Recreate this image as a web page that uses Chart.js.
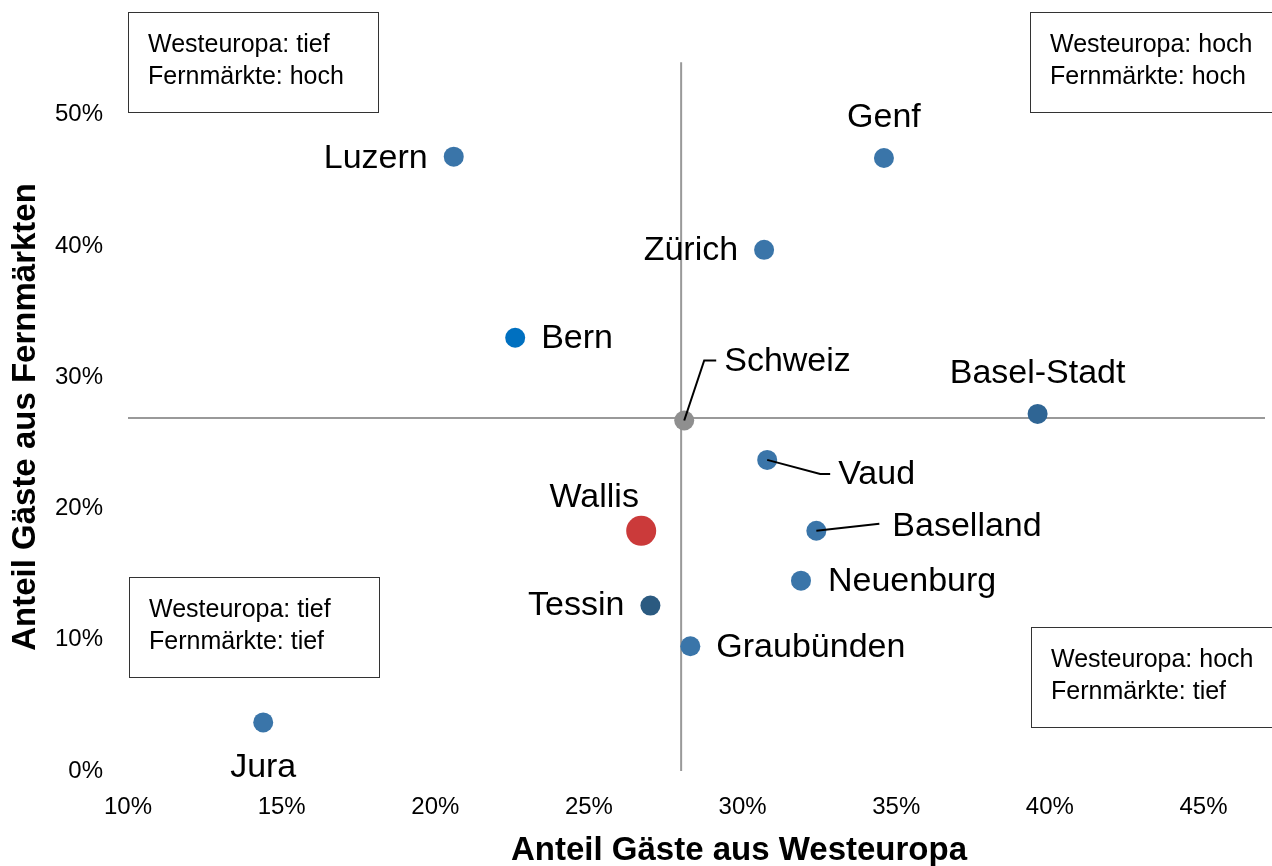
<!DOCTYPE html>
<html>
<head>
<meta charset="utf-8">
<script src="https://cdn.jsdelivr.net/npm/chart.js@4.4.0/dist/chart.umd.min.js"></script>
<style>
  html, body { margin: 0; padding: 0; background: #fff; }
  #wrap { width: 1272px; height: 866px; }
</style>
</head>
<body>
<div id="wrap"><canvas id="scatter"></canvas></div>
<script>
// Kantone: Anteil Gäste aus Westeuropa (x) und aus Fernmärkten (y), in %
var regions = ['Luzern', 'Genf', 'Zürich', 'Bern', 'Schweiz', 'Basel-Stadt', 'Vaud', 'Wallis', 'Baselland', 'Neuenburg', 'Tessin', 'Graubünden', 'Jura'];
var westEurope = [20.6, 34.6, 30.7, 22.6, 28.1, 39.6, 30.8, 26.7, 32.4, 31.9, 27.0, 28.3, 14.4];
var farMarkets = [46.8, 46.7, 39.7, 33.0, 26.7, 27.2, 23.7, 18.3, 18.3, 14.5, 12.6, 9.5, 3.7];

// Trennlinien (Schweizer Durchschnitt)
var crossX = 28.0;
var crossY = 26.9;

var xTicks = [10, 15, 20, 25, 30, 35, 40, 45];
var yTicks = [0, 10, 20, 30, 40, 50];

var xTitle = 'Anteil Gäste aus Westeuropa';
var yTitle = 'Anteil Gäste aus Fernmärkten';

var quadrantText = [
    ['Westeuropa: tief', 'Fernmärkte: hoch'],
    ['Westeuropa: hoch', 'Fernmärkte: hoch'],
    ['Westeuropa: tief', 'Fernmärkte: tief'],
    ['Westeuropa: hoch', 'Fernmärkte: tief']
];

// styling
var fontFam = '"Liberation Sans", Arial, sans-serif';
var blue = '#3a75a9';
var pointColors = {
    'Bern': '#0070c0',
    'Tessin': '#2b5a80',
    'Basel-Stadt': '#2f6594',
    'Schweiz': '#8f8f8f',
    'Wallis': '#cb3a3a'
};
var labelPos = {
    'Luzern': { dx: -26, dy: 2, align: 'right' },
    'Genf': { dx: 0, dy: -40, align: 'center' },
    'Zürich': { dx: -26, dy: 1, align: 'right' },
    'Bern': { dx: 26, dy: 1, align: 'left' },
    'Schweiz': { dx: 40, dy: -59, align: 'left', leader: [[20, -60], [32, -60]] },
    'Basel-Stadt': { dx: 0, dy: -40, align: 'center' },
    'Vaud': { dx: 71, dy: 15, align: 'left', leader: [[53, 14], [63, 14]] },
    'Wallis': { dx: -47, dy: -33, align: 'center' },
    'Baselland': { dx: 76, dy: -4, align: 'left', leader: [[63, -7]] },
    'Neuenburg': { dx: 27, dy: 1, align: 'left' },
    'Tessin': { dx: -26, dy: 0, align: 'right' },
    'Graubünden': { dx: 26, dy: 1, align: 'left' },
    'Jura': { dx: 0, dy: 45, align: 'center' }
};
var boxes = [
    { x: 128, y: 12, w: 250, h: 100 },
    { x: 1030, y: 12, w: 260, h: 100 },
    { x: 129, y: 577, w: 250, h: 100 },
    { x: 1031, y: 627, w: 260, h: 100 }
];

var points = regions.map(function (r, i) {
    return { x: westEurope[i], y: farMarkets[i] };
});

var pointLabels = {
    id: 'pointLabels',
    afterDatasetsDraw: function (chart) {
        var ctx = chart.ctx;
        var meta = chart.getDatasetMeta(0);
        ctx.save();
        ctx.font = '34px ' + fontFam;
        ctx.fillStyle = '#000';
        ctx.strokeStyle = '#000';
        ctx.lineWidth = 2;
        ctx.textBaseline = 'middle';
        meta.data.forEach(function (el, i) {
            var p = labelPos[regions[i]];
            if (p.leader) {
                ctx.beginPath();
                ctx.moveTo(el.x, el.y);
                p.leader.forEach(function (l) { ctx.lineTo(el.x + l[0], el.y + l[1]); });
                ctx.stroke();
            }
            ctx.textAlign = p.align;
            ctx.fillText(regions[i], el.x + p.dx, el.y + p.dy);
        });
        ctx.restore();
    }
};

// Kästchen und Achsentitel
var decorations = {
    id: 'decorations',
    afterDraw: function (chart) {
        var ctx = chart.ctx;
        ctx.save();
        ctx.font = '25px ' + fontFam;
        ctx.textAlign = 'left';
        ctx.textBaseline = 'middle';
        boxes.forEach(function (b, i) {
            ctx.fillStyle = '#fff';
            ctx.fillRect(b.x, b.y, b.w, b.h);
            ctx.strokeStyle = '#333';
            ctx.lineWidth = 1;
            ctx.strokeRect(b.x + 0.5, b.y + 0.5, b.w, b.h);
            ctx.fillStyle = '#000';
            ctx.fillText(quadrantText[i][0], b.x + 20, b.y + 33);
            ctx.fillText(quadrantText[i][1], b.x + 20, b.y + 65);
        });

        ctx.font = 'bold 33px ' + fontFam;
        ctx.textAlign = 'center';
        ctx.fillText(xTitle, 739, 851);
        ctx.translate(26, 417);
        ctx.rotate(-Math.PI / 2);
        ctx.fillText(yTitle, 0, 0);
        ctx.restore();
    }
};

var ctxs = document.getElementById('scatter');
var myScatter = new Chart(ctxs, {
    type: 'scatter',
    data: {
        datasets: [
            {
                label: 'Kantone',
                data: points,
                order: 0,
                backgroundColor: regions.map(function (r) { return pointColors[r] || blue; }),
                borderWidth: 0,
                pointRadius: regions.map(function (r) { return r === 'Wallis' ? 15 : 10; })
            },
            {
                label: 'vertikal',
                data: [{ x: crossX, y: 0 }, { x: crossX, y: 54 }],
                order: 1,
                showLine: true,
                borderColor: '#999',
                borderWidth: 2,
                pointRadius: 0
            },
            {
                label: 'horizontal',
                data: [{ x: 10, y: crossY }, { x: 47, y: crossY }],
                order: 1,
                showLine: true,
                borderColor: '#999',
                borderWidth: 2,
                pointRadius: 0
            }
        ]
    },
    options: {
        responsive: true,
        maintainAspectRatio: false,
        animation: false,
        layout: { autoPadding: false, padding: { top: 49, right: 7, left: 0, bottom: 0 } },
        plugins: {
            legend: { display: false },
            tooltip: { enabled: false }
        },
        scales: {
            x: {
                type: 'linear',
                min: 10,
                max: 47,
                afterFit: function (s) { s.height = 95; s.paddingRight = 0; s.paddingLeft = 0; },
                afterBuildTicks: function (s) { s.ticks = xTicks.map(function (v) { return { value: v }; }); },
                grid: { display: false },
                border: { display: false },
                ticks: {
                    padding: 14,
                    color: '#000',
                    font: { family: fontFam, size: 24 },
                    callback: function (v) { return v + '%'; }
                },
                title: { display: false }
            },
            y: {
                type: 'linear',
                min: 0,
                max: 55,
                afterFit: function (s) { s.width = 128; },
                afterBuildTicks: function (s) { s.ticks = yTicks.map(function (v) { return { value: v }; }); },
                grid: { display: false },
                border: { display: false },
                ticks: {
                    padding: 17,
                    color: '#000',
                    font: { family: fontFam, size: 24 },
                    callback: function (v) { return v + '%'; }
                },
                title: { display: false }
            }
        }
    },
    plugins: [pointLabels, decorations]
});
</script>
</body>
</html>
